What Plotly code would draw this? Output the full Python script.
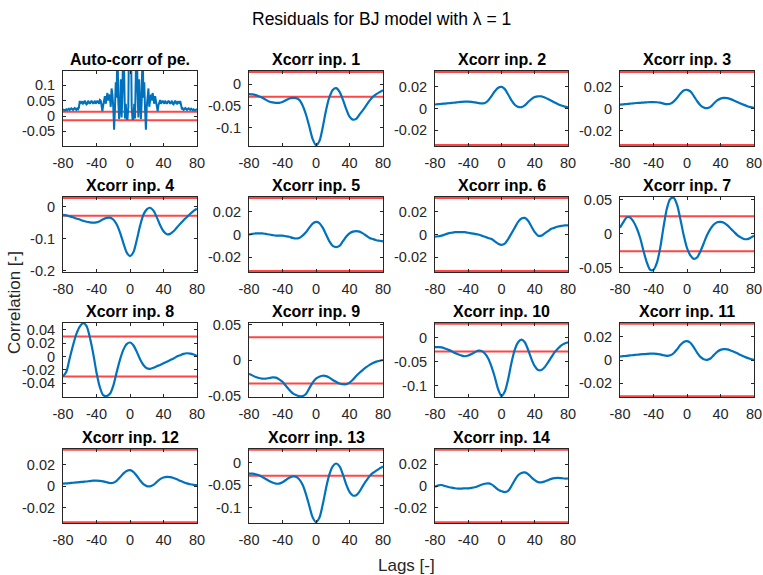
import plotly.graph_objects as go

# ---------------------------------------------------------------- data
LAGS = list(range(-80, 81, 4))

# auto-correlation of the prediction error, lags 0..80 (symmetric in lag)
AUTO_LAGS_HALF = list(range(0, 81))
AUTO_CORR_HALF = [
    1.0, 0.3, 0.03, -0.01, -0.01, 0.04, -0.008, 0.12, 0.3, 0.08,
    -0.005, 0.12, 0.03, -0.01, 0.05, 0.25, 0.06, 0.11, 0.02, -0.045,
    0.03, 0.07, 0.09, 0.03, 0.06, 0.07, 0.05, 0.075, 0.06, 0.04,
    0.065, 0.05, 0.035, 0.016, 0.035, 0.05, 0.052, 0.04, 0.045, 0.05,
    0.045, 0.04, 0.05, 0.045, 0.04, 0.045, 0.05, 0.045, 0.04, 0.045,
    0.05, 0.04, 0.038, 0.045, 0.05, 0.042, 0.04, 0.048, 0.045, 0.04,
    0.049, 0.027, 0.022, 0.025, 0.02, 0.022, 0.026, 0.024, 0.02, 0.023,
    0.025, 0.022, 0.02, 0.024, 0.021, 0.019, 0.022, 0.02, 0.018, 0.021,
    0.022,
]

XCORR_INP1 = [
    -0.023, -0.0235, -0.025, -0.028, -0.031, -0.0356, -0.040, -0.042, -0.043, -0.043,
    -0.041, -0.037, -0.033, -0.0315, -0.032, -0.036, -0.049, -0.070, -0.098, -0.127,
    -0.141, -0.132, -0.100, -0.060, -0.030, -0.013, -0.009, -0.017, -0.035, -0.057,
    -0.075, -0.082, -0.080, -0.070, -0.060, -0.049, -0.038, -0.029, -0.023, -0.018,
    -0.0136,
]
XCORR_INP2 = [
    0.0037, 0.0040, 0.0043, 0.0046, 0.0049, 0.0052, 0.0055, 0.0058, 0.0061, 0.0063,
    0.0064, 0.0062, 0.0057, 0.0051, 0.0047, 0.0052, 0.0075, 0.0115, 0.0160, 0.0192,
    0.0200, 0.0180, 0.0130, 0.0075, 0.0035, 0.0015, 0.0013, 0.0030, 0.0060, 0.0088,
    0.0106, 0.0113, 0.0112, 0.0102, 0.0088, 0.0072, 0.0055, 0.0040, 0.0027, 0.0017,
    0.0010,
]
XCORR_INP3 = [
    0.0035, 0.0038, 0.0041, 0.0044, 0.0047, 0.0050, 0.0052, 0.0054, 0.0056, 0.0058,
    0.0058, 0.0057, 0.0053, 0.0045, 0.0040, 0.0043, 0.0062, 0.0095, 0.0135, 0.0163,
    0.0170, 0.0155, 0.0115, 0.0068, 0.0030, 0.0010, 0.0003, 0.0015, 0.0045, 0.0073,
    0.0090, 0.0096, 0.0094, 0.0085, 0.0073, 0.0060, 0.0046, 0.0033, 0.0021, 0.0012,
    0.0005,
]
XCORR_INP4 = [
    -0.025, -0.027, -0.030, -0.033, -0.037, -0.040, -0.044, -0.047, -0.049, -0.050,
    -0.049, -0.045, -0.039, -0.035, -0.034, -0.040, -0.055, -0.080, -0.113, -0.143,
    -0.155, -0.143, -0.105, -0.060, -0.025, -0.008, -0.003, -0.012, -0.033, -0.058,
    -0.077, -0.086, -0.085, -0.077, -0.065, -0.053, -0.042, -0.032, -0.022, -0.013,
    -0.006,
]
XCORR_INP5 = [
    0.0, 0.0005, 0.001, 0.001, 0.001, 0.0005, 0.0, -0.0005, -0.001, -0.001,
    -0.001, -0.0015, -0.002, -0.003, -0.0035, -0.003, -0.001, 0.002, 0.006, 0.0095,
    0.011, 0.010, 0.006, 0.0, -0.006, -0.010, -0.011, -0.010, -0.006, -0.002,
    0.001, 0.0025, 0.003, 0.0025, 0.001, -0.001, -0.003, -0.004, -0.005, -0.0055,
    -0.006,
]
XCORR_INP6 = [
    -0.002, -0.0015, -0.001, 0.0, 0.001, 0.0015, 0.002, 0.002, 0.002, 0.002,
    0.0015, 0.001, 0.0005, 0.0, -0.001, -0.002, -0.003, -0.004, -0.006, -0.008,
    -0.009, -0.008, -0.004, 0.001, 0.006, 0.011, 0.014, 0.0145, 0.012, 0.007,
    0.002, -0.001, -0.001, 0.001, 0.003, 0.005, 0.006, 0.007, 0.0075, 0.008,
    0.008,
]
XCORR_INP7 = [
    0.0087, 0.017, 0.024, 0.024, 0.018, 0.008, -0.006, -0.025, -0.042, -0.053,
    -0.053, -0.043, -0.021, 0.010, 0.037, 0.051, 0.053, 0.043, 0.022, -0.002,
    -0.021, -0.032, -0.037, -0.035, -0.026, -0.014, -0.002, 0.007, 0.0135, 0.017,
    0.0174, 0.016, 0.0125, 0.0077, 0.003, -0.002, -0.0053, -0.0077, -0.008, -0.0058,
    -0.0029,
]
XCORR_INP8 = [
    -0.030, -0.023, -0.0025, 0.017, 0.034, 0.045, 0.050, 0.046, 0.029, 0.005,
    -0.024, -0.046, -0.058, -0.0595, -0.056, -0.044, -0.024, -0.005, 0.010, 0.0185,
    0.021, 0.017, 0.0073, -0.004, -0.0127, -0.0176, -0.0185, -0.017, -0.0146, -0.0127,
    -0.0102, -0.0078, -0.0054, -0.003, 0.0, 0.002, 0.004, 0.0049, 0.0044, 0.003,
    0.001,
]
XCORR_INP9 = [
    -0.0187, -0.021, -0.0233, -0.0247, -0.0256, -0.0256, -0.0247, -0.0238, -0.0242, -0.0265,
    -0.030, -0.0356, -0.041, -0.0457, -0.0484, -0.050, -0.050, -0.047, -0.039, -0.031,
    -0.0256, -0.0229, -0.0215, -0.022, -0.0242, -0.0274, -0.030, -0.0324, -0.0334, -0.0334,
    -0.031, -0.027, -0.022, -0.0174, -0.0133, -0.0096, -0.0064, -0.0037, -0.0018, -0.0005,
    0.0005,
]
XCORR_INP10 = [
    -0.0196, -0.0196, -0.020, -0.0223, -0.025, -0.028, -0.032, -0.0345, -0.037, -0.0385,
    -0.037, -0.034, -0.030, -0.027, -0.0277, -0.033, -0.043, -0.060, -0.082, -0.107,
    -0.121, -0.1115, -0.086, -0.052, -0.025, -0.0095, -0.004, -0.0095, -0.025, -0.044,
    -0.059, -0.067, -0.067, -0.061, -0.051, -0.0405, -0.030, -0.0223, -0.016, -0.012,
    -0.0095,
]
XCORR_INP11 = [
    0.0030, 0.0033, 0.0036, 0.0039, 0.0042, 0.0045, 0.0048, 0.0050, 0.0052, 0.0054,
    0.0055, 0.0053, 0.0048, 0.0041, 0.0036, 0.0040, 0.0058, 0.0090, 0.0128, 0.0155,
    0.0162, 0.0148, 0.0110, 0.0064, 0.0027, 0.0007, 0.0001, 0.0013, 0.0042, 0.0070,
    0.0087, 0.0093, 0.0091, 0.0082, 0.0070, 0.0057, 0.0043, 0.0030, 0.0018, 0.0009,
    0.0002,
]
XCORR_INP12 = [
    0.0022, 0.0024, 0.0027, 0.0030, 0.0033, 0.0036, 0.0039, 0.0042, 0.0046, 0.0049,
    0.0050, 0.0048, 0.0043, 0.0035, 0.0028, 0.0030, 0.0048, 0.0080, 0.0115, 0.0140,
    0.0147, 0.0132, 0.0095, 0.0052, 0.0017, -0.0001, -0.0003, 0.0010, 0.0038, 0.0064,
    0.0079, 0.0084, 0.0082, 0.0074, 0.0062, 0.0048, 0.0035, 0.0024, 0.0016, 0.0011,
    0.0008,
]
XCORR_INP13 = [
    -0.024, -0.024, -0.0254, -0.028, -0.032, -0.036, -0.0406, -0.044, -0.0464, -0.0464,
    -0.0435, -0.0384, -0.0334, -0.0305, -0.031, -0.037, -0.049, -0.070, -0.0964, -0.122,
    -0.1327, -0.123, -0.094, -0.0566, -0.026, -0.008, -0.0015, -0.0073, -0.0254, -0.048,
    -0.065, -0.073, -0.0725, -0.064, -0.0515, -0.040, -0.0297, -0.0225, -0.0174, -0.0123,
    -0.008,
]
XCORR_INP14 = [
    -0.0006, 0.0006, 0.0009, 0.0, -0.0009, -0.0015, -0.0021, -0.0024, -0.0024, -0.0021,
    -0.0021, -0.0018, -0.0012, 0.0, 0.0012, 0.0021, 0.0024, 0.0015, -0.0009, -0.0033,
    -0.0048, -0.0057, -0.0045, 0.0, 0.0054, 0.0099, 0.012, 0.0125, 0.011, 0.008,
    0.0054, 0.0036, 0.0033, 0.0042, 0.0054, 0.0066, 0.0072, 0.0075, 0.0072, 0.0069,
    0.0069,
]

XCORR_SERIES = [
    XCORR_INP1, XCORR_INP2, XCORR_INP3, XCORR_INP4, XCORR_INP5, XCORR_INP6, XCORR_INP7,
    XCORR_INP8, XCORR_INP9, XCORR_INP10, XCORR_INP11, XCORR_INP12, XCORR_INP13, XCORR_INP14,
]

PANEL_TITLES = ["Auto-corr of pe."] + ["Xcorr inp. %d" % i for i in range(1, 15)]

# 99% confidence bounds (drawn as +/- bound)
CONF_BOUNDS = [0.0135, 0.0288, 0.034, 0.0333, 0.028, 0.032, 0.032, 0.0258,
               0.030, 0.0324, 0.0285, 0.031, 0.0335, 0.029, 0.0333]

Y_LIMITS = [
    (-0.095, 0.144), (-0.141, 0.0288), (-0.034, 0.034), (-0.0333, 0.0333),
    (-0.202, 0.028), (-0.032, 0.032), (-0.032, 0.032), (-0.055, 0.0527),
    (-0.0595, 0.049), (-0.050, 0.051), (-0.121, 0.0285), (-0.031, 0.031),
    (-0.0335, 0.0335), (-0.1326, 0.029), (-0.0333, 0.0333),
]

Y_TICKS = [
    [-0.05, 0, 0.05, 0.1], [-0.1, -0.05, 0], [-0.02, 0, 0.02], [-0.02, 0, 0.02],
    [-0.2, -0.1, 0], [-0.02, 0, 0.02], [-0.02, 0, 0.02], [-0.05, 0, 0.05],
    [-0.04, -0.02, 0, 0.02, 0.04], [-0.05, 0, 0.05], [-0.1, -0.05, 0],
    [-0.02, 0, 0.02], [-0.02, 0, 0.02], [-0.1, -0.05, 0], [-0.02, 0, 0.02],
]

X_TICKS = [-80, -40, 0, 40, 80]

# ---------------------------------------------------------------- style
W, H = 763, 575
COL_PX = [(63, 197), (249, 383), (435, 568), (620, 754)]
ROW_PX = [(71, 146), (197, 272), (323, 397), (449, 523)]
FONT = "Liberation Sans, Arial, Helvetica, sans-serif"
BLUE = "#0072BD"
RED = "#FF4545"
AXIS = "#262626"
TICK_SIZE = 14.5


def fmt(v):
    return "0" if v == 0 else "%g" % v


fig = go.Figure()
annotations = []

# full auto-correlation from the symmetric half
auto_lags = [-l for l in AUTO_LAGS_HALF[:0:-1]] + AUTO_LAGS_HALF
auto_vals = AUTO_CORR_HALF[:0:-1] + AUTO_CORR_HALF

for k in range(15):
    r, c = divmod(k, 4)
    n = k + 1
    xs = "x" if n == 1 else "x%d" % n
    ys = "y" if n == 1 else "y%d" % n
    xkey = "xaxis" if n == 1 else "xaxis%d" % n
    ykey = "yaxis" if n == 1 else "yaxis%d" % n

    x0, x1 = COL_PX[c]
    t0, t1 = ROW_PX[r]
    xdom = [x0 / W, x1 / W]
    ydom = [1 - t1 / H, 1 - t0 / H]

    if k == 0:
        lx, ly = auto_lags, auto_vals
        line = dict(color=BLUE, width=2)
    else:
        lx, ly = LAGS, XCORR_SERIES[k - 1]
        line = dict(color=BLUE, width=2.2, shape="spline", smoothing=0.8)

    b = CONF_BOUNDS[k]
    for sgn in (1, -1):
        fig.add_trace(go.Scatter(
            x=[-80, 80], y=[sgn * b, sgn * b], mode="lines",
            line=dict(color=RED, width=2), xaxis=xs, yaxis=ys,
            hoverinfo="skip", showlegend=False))
    fig.add_trace(go.Scatter(
        x=lx, y=ly, mode="lines", line=line,
        xaxis=xs, yaxis=ys, showlegend=False))

    lo, hi = Y_LIMITS[k]
    pad = 0.012 * (hi - lo)
    common = dict(
        showline=True, linecolor=AXIS, linewidth=1, mirror="ticks",
        ticks="inside", ticklen=3, tickcolor=AXIS, tickwidth=1,
        showgrid=False, zeroline=False, automargin=False,
        tickfont=dict(family=FONT, size=TICK_SIZE, color=AXIS),
    )
    fig.update_layout({
        xkey: dict(domain=xdom, anchor=ys, range=[-80, 80],
                   tickvals=X_TICKS, ticktext=[fmt(v) for v in X_TICKS],
                   ticklabelstandoff=4, **common),
        ykey: dict(domain=ydom, anchor=xs, range=[lo - pad, hi + pad],
                   tickvals=Y_TICKS[k], ticktext=[fmt(v) for v in Y_TICKS[k]],
                   ticklabelstandoff=4, **common),
    })

    annotations.append(dict(
        text="<b>%s</b>" % PANEL_TITLES[k], x=(xdom[0] + xdom[1]) / 2, y=ydom[1],
        xref="paper", yref="paper", xanchor="center", yanchor="bottom",
        yshift=1, showarrow=False,
        font=dict(family=FONT, size=16, color="#000000")))

annotations.append(dict(
    text="Residuals for BJ model with λ = 1", x=381 / W, y=1 - 19 / H,
    xref="paper", yref="paper", xanchor="center", yanchor="middle",
    showarrow=False, font=dict(family=FONT, size=17.5, color="#000000")))
annotations.append(dict(
    text="Lags [-]", x=406 / W, y=1 - 565 / H,
    xref="paper", yref="paper", xanchor="center", yanchor="middle",
    showarrow=False, font=dict(family=FONT, size=17, color=AXIS)))
annotations.append(dict(
    text="Correlation [-]", x=14 / W, y=1 - 303 / H, textangle=-90,
    xref="paper", yref="paper", xanchor="center", yanchor="middle",
    showarrow=False, font=dict(family=FONT, size=17, color=AXIS)))

fig.update_layout(
    width=W, height=H, margin=dict(l=0, r=0, t=0, b=0),
    paper_bgcolor="white", plot_bgcolor="white",
    annotations=annotations, showlegend=False,
)

fig.write_html("out.html", include_plotlyjs=True)
